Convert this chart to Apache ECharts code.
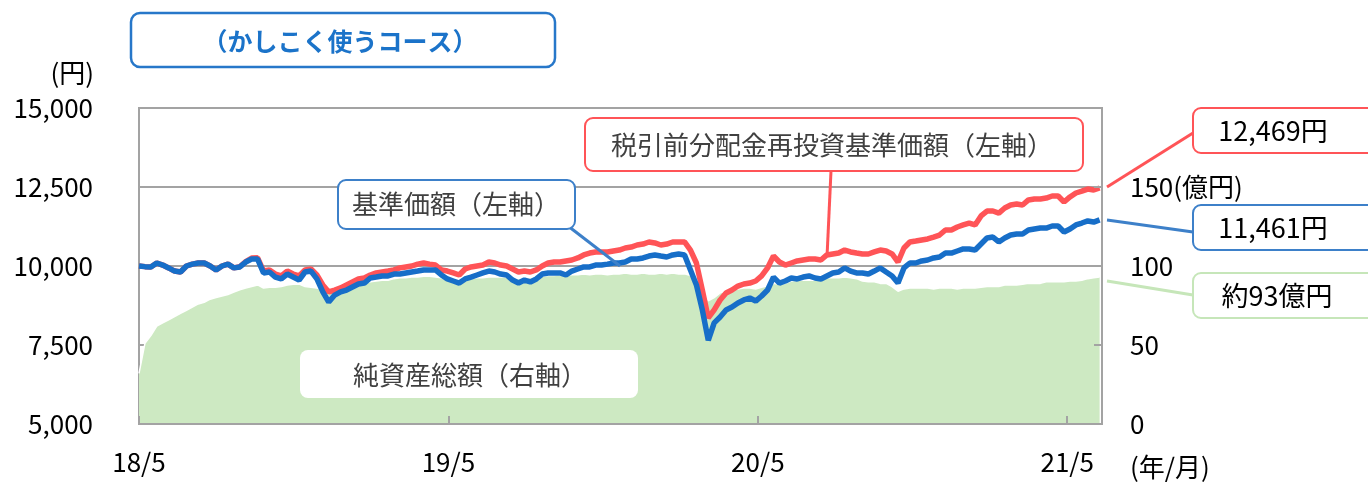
<!DOCTYPE html>
<html>
<head>
<meta charset="utf-8">
<script src="https://cdn.jsdelivr.net/npm/echarts@6/dist/echarts.min.js"></script>
<style>
html, body { margin: 0; padding: 0; background: #fff; }
#container { width: 1368px; height: 484px; }
</style>
</head>
<body>
<div id="container"></div>
<script>
/* 週次データ（2018/5/1 起点、1週ごと） */
var START = new Date(2018, 4, 1);
var WEEKS_PER_YEAR = 365.25 / 7;

/* x軸ラベル */
var xLabels = ['18/5', '19/5', '20/5', '21/5'];

/* 基準価額（円） */
var nav = [
    10000, 9980, 9970, 10095, 10030, 9940, 9840, 9810, 10000, 10060,
    10095, 10095, 10000, 9875, 10000, 10060, 9940, 9970, 10125, 10220,
    10220, 9780, 9810, 9650, 9590, 9745, 9650, 9555, 9810, 9840,
    9590, 9180, 8860, 9080, 9180, 9240, 9335, 9430, 9460, 9620,
    9650, 9685, 9685, 9745, 9745, 9780, 9810, 9840, 9875, 9875,
    9875, 9715, 9590, 9525, 9460, 9590, 9650, 9715, 9780, 9840,
    9810, 9745, 9715, 9555, 9460, 9555, 9495, 9590, 9745, 9780,
    9780, 9780, 9715, 9840, 9905, 9970, 9970, 10030, 10030, 10060,
    10095, 10095, 10125, 10220, 10220, 10255, 10315, 10350, 10315, 10285,
    10350, 10380, 10350, 9875, 9400, 8610, 7650, 8200, 8385, 8610,
    8700, 8830, 8925, 8985, 8890, 9050, 9240, 9650, 9460, 9525,
    9620, 9590, 9650, 9685, 9620, 9590, 9685, 9780, 9810, 9940,
    9840, 9780, 9780, 9745, 9840, 9940, 9810, 9685, 9460, 9940,
    10095, 10095, 10160, 10190, 10255, 10285, 10410, 10410, 10475, 10540,
    10540, 10505, 10695, 10885, 10915, 10760, 10885, 10980, 11010, 11010,
    11140, 11170, 11200, 11200, 11265, 11265, 11075, 11170, 11300, 11360,
    11425, 11390, 11461
];

/* 税引前分配金再投資基準価額（円） */
var reinvested = [
    10000, 9980, 9970, 10095, 10030, 9940, 9840, 9810, 10000, 10060,
    10095, 10095, 10000, 9875, 10000, 10060, 9940, 9975, 10140, 10250,
    10260, 9840, 9875, 9745, 9685, 9840, 9745, 9685, 9875, 9905,
    9715, 9400, 9180, 9240, 9305, 9400, 9495, 9590, 9620, 9715,
    9780, 9810, 9840, 9875, 9940, 9970, 10000, 10060, 10095, 10060,
    10030, 9875, 9840, 9780, 9715, 9905, 9970, 10000, 10030, 10125,
    10095, 10030, 10000, 9905, 9810, 9840, 9810, 9875, 10000, 10095,
    10125, 10125, 10160, 10190, 10255, 10350, 10410, 10445, 10445, 10445,
    10475, 10505, 10570, 10600, 10665, 10695, 10760, 10730, 10665, 10695,
    10760, 10760, 10760, 10505, 10095, 9240, 8355, 8610, 8925, 9145,
    9240, 9365, 9430, 9460, 9525, 9685, 9940, 10315, 10125, 10030,
    10095, 10160, 10190, 10220, 10220, 10190, 10350, 10380, 10410, 10505,
    10445, 10410, 10380, 10380, 10445, 10505, 10475, 10380, 10125, 10570,
    10760, 10790, 10825, 10855, 10915, 10980, 11140, 11140, 11235, 11300,
    11360, 11300, 11585, 11740, 11740, 11675, 11835, 11930, 11960, 11930,
    12090, 12120, 12120, 12150, 12215, 12215, 12025, 12185, 12310, 12370,
    12435, 12405, 12469
];

/* 純資産総額（億円） */
var netAssets = [
    32, 51, 56, 62, 64, 66, 68, 70, 72, 74,
    76, 77, 79, 80, 81, 82, 83.5, 85, 86, 87,
    88, 86, 86.5, 86.5, 87, 88, 88.5, 88.5, 87, 86.5,
    86, 85, 83.5, 84, 85.5, 86, 87, 88.5, 89, 90,
    90.5, 91, 91, 92, 92.5, 92.5, 93, 93, 93.5, 93.5,
    93, 92.5, 91, 90.5, 90, 91, 92, 92.5, 92.5, 93,
    93, 93, 93, 92.5, 92, 92.5, 92.5, 93, 93.5, 94,
    94, 94.5, 94, 94.5, 94.5, 95, 94.5, 95, 95, 94.5,
    95, 95, 95.5, 95, 95, 95.5, 95, 95, 95.5, 95,
    95.5, 95, 95, 94, 92, 86, 78, 80, 83, 84,
    85, 85.5, 86, 86, 85.5, 86.5, 87.5, 89, 88.5, 89,
    90.5, 91, 91, 91, 91, 92, 92.5, 92.5, 92.5, 93,
    92.5, 92, 90.5, 90, 90, 89, 89, 87, 84, 85.5,
    86, 86, 86, 86, 85.5, 86, 86, 86, 85.5, 86,
    86, 86, 86.5, 87, 87, 87, 88, 88, 88, 88.5,
    89, 89, 89, 90, 90, 90, 90, 90.5, 90.5, 91,
    92, 92.5, 93
];

/* 日付（週次） */
var dates = [];
for (var i = 0; i < nav.length; i++) {
    var d = new Date(START.getTime() + i * 7 * 86400000);
    dates.push(d.getFullYear() + '/' + (d.getMonth() + 1) + '/' + d.getDate());
}

function pairs(arr) {
    return arr.map(function (v, i) { return [i, v]; });
}

var FONT = "'Noto Sans CJK JP', sans-serif";
var GRAY = '#a3a3a3';
var RED = '#ff5457';
var BLUE = '#176ec8';
var GREEN = '#cde9c2';

var dom = document.getElementById('container');
var myChart = echarts.init(dom, null, {renderer: 'canvas'});

var lastNav = nav[nav.length - 1];
var lastRe = reinvested[reinvested.length - 1];
var lastNet = netAssets[netAssets.length - 1];

var option = {
    animation: false,
    textStyle: {fontFamily: FONT},
    tooltip: {
        trigger: 'axis',
        formatter: function (p) {
            var s = dates[p[0].value[0]];
            p.forEach(function (q) { s += '<br>' + q.seriesName + ': ' + q.value[1]; });
            return s;
        }
    },
    grid: {
        left: 139, right: 266, top: 108, bottom: 60,
        show: true, borderColor: GRAY, borderWidth: 2, backgroundColor: 'transparent'
    },
    xAxis: {
        type: 'value',
        min: 0,
        max: 162.4,
        interval: WEEKS_PER_YEAR,
        z: 10,
        axisLine: {show: true, lineStyle: {color: GRAY, width: 2}},
        axisTick: {show: true, inside: true, length: 8, lineStyle: {color: GRAY, width: 2}},
        splitLine: {show: false},
        axisPointer: {show: false},
        axisLabel: {
            fontSize: 26, color: '#000', fontFamily: FONT, margin: 25,
            showMaxLabel: false,
            formatter: function (v) {
                var k = Math.round(v / WEEKS_PER_YEAR);
                if (Math.abs(v - k * WEEKS_PER_YEAR) < 0.01 && xLabels[k]) return xLabels[k];
                return '';
            }
        }
    },
    yAxis: [{
        type: 'value',
        position: 'left',
        min: 5000, max: 15000, interval: 2500,
        axisLine: {show: true, lineStyle: {color: GRAY, width: 2}},
        axisTick: {show: true, inside: true, length: 8, lineStyle: {color: GRAY, width: 2}},
        splitLine: {show: true, lineStyle: {color: GRAY, width: 2}},
        axisLabel: {
            fontSize: 26, color: '#000', fontFamily: FONT, margin: 46,
            formatter: function (v) { return v.toLocaleString('en-US'); }
        }
    }, {
        type: 'value',
        position: 'right',
        min: 0, max: 200, interval: 50,
        z: 10,
        axisLine: {show: true, lineStyle: {color: GRAY, width: 2}},
        axisTick: {show: true, inside: true, length: 8, lineStyle: {color: GRAY, width: 2}},
        splitLine: {show: false},
        axisLabel: {
            fontSize: 26, color: '#000', fontFamily: FONT, margin: 28,
            formatter: function (v) {
                if (v === 200) return '';
                if (v === 150) return '150(億円)';
                return String(v);
            }
        }
    }],
    series: [{
        name: '純資産総額',
        type: 'line',
        yAxisIndex: 1,
        data: pairs(netAssets),
        symbol: 'none',
        lineStyle: {color: '#fff', width: 1.5},
        areaStyle: {color: GREEN, opacity: 1},
        z: 1
    }, {
        name: '税引前分配金再投資基準価額',
        type: 'line',
        data: pairs(reinvested),
        symbol: 'none',
        lineStyle: {color: RED, width: 5.5},
        z: 3
    }, {
        name: '基準価額',
        type: 'line',
        data: pairs(nav),
        symbol: 'none',
        lineStyle: {color: BLUE, width: 5.5},
        z: 4
    }],
    graphic: [
        /* タイトル */
        {type: 'rect', z: 100, shape: {x: 131, y: 13, width: 424, height: 54, r: 9},
            style: {fill: '#fff', stroke: '#2777c9', lineWidth: 2.5}},
        {type: 'text', z: 101, x: 340, y: 41,
            style: {text: '（かしこく使うコース）', fontSize: 25, fontWeight: 'bold', fontFamily: FONT,
                fill: '#1b73c9', align: 'center', verticalAlign: 'middle'}},
        /* 単位 */
        {type: 'text', z: 101, x: 94, y: 73,
            style: {text: '(円)', fontSize: 26, fontFamily: FONT, fill: '#000', align: 'right', verticalAlign: 'middle'}},
        {type: 'text', z: 101, x: 1130, y: 467,
            style: {text: '(年/月)', fontSize: 26, fontFamily: FONT, fill: '#000', align: 'left', verticalAlign: 'middle'}},
        /* 基準価額 */
        {type: 'line', z: 100, shape: {x1: 568, y1: 226, x2: 620, y2: 266},
            style: {stroke: '#3d80c9', lineWidth: 3}},
        {type: 'rect', z: 100, shape: {x: 338, y: 180, width: 237, height: 49, r: 8},
            style: {fill: '#fff', stroke: '#3d80c9', lineWidth: 2}},
        {type: 'text', z: 101, x: 456, y: 204,
            style: {text: '基準価額（左軸）', fontSize: 26, fontFamily: FONT, fill: '#404040', align: 'center', verticalAlign: 'middle'}},
        /* 税引前分配金再投資基準価額 */
        {type: 'line', z: 100, shape: {x1: 831, y1: 171, x2: 827, y2: 257},
            style: {stroke: RED, lineWidth: 3}},
        {type: 'rect', z: 100, shape: {x: 585, y: 118, width: 498, height: 53, r: 8},
            style: {fill: '#fff', stroke: RED, lineWidth: 2}},
        {type: 'text', z: 101, x: 832, y: 145,
            style: {text: '税引前分配金再投資基準価額（左軸）', fontSize: 26, fontFamily: FONT, fill: '#404040', align: 'center', verticalAlign: 'middle'}},
        /* 純資産総額 */
        {type: 'rect', z: 100, shape: {x: 300, y: 350, width: 338, height: 48, r: 8},
            style: {fill: '#fff', stroke: null}},
        {type: 'text', z: 101, x: 470, y: 375,
            style: {text: '純資産総額（右軸）', fontSize: 26, fontFamily: FONT, fill: '#404040', align: 'center', verticalAlign: 'middle'}},
        /* 右側の吹き出し */
        {type: 'line', z: 100, shape: {x1: 1107, y1: 187, x2: 1193, y2: 133},
            style: {stroke: RED, lineWidth: 3}},
        {type: 'rect', z: 100, shape: {x: 1193, y: 108, width: 200, height: 45, r: 8},
            style: {fill: '#fff', stroke: RED, lineWidth: 2}},
        {type: 'text', z: 101, x: 1273, y: 131,
            style: {text: lastRe.toLocaleString('en-US') + '円', fontSize: 27, fontFamily: FONT, fill: '#000', align: 'center', verticalAlign: 'middle'}},
        {type: 'line', z: 100, shape: {x1: 1107, y1: 220, x2: 1193, y2: 232},
            style: {stroke: '#3d80c9', lineWidth: 3}},
        {type: 'rect', z: 100, shape: {x: 1193, y: 205, width: 200, height: 45, r: 8},
            style: {fill: '#fff', stroke: '#3d80c9', lineWidth: 2}},
        {type: 'text', z: 101, x: 1273, y: 228,
            style: {text: lastNav.toLocaleString('en-US') + '円', fontSize: 27, fontFamily: FONT, fill: '#000', align: 'center', verticalAlign: 'middle'}},
        {type: 'line', z: 100, shape: {x1: 1107, y1: 281, x2: 1193, y2: 295},
            style: {stroke: '#c6e6b9', lineWidth: 3}},
        {type: 'rect', z: 100, shape: {x: 1193, y: 273, width: 200, height: 45, r: 8},
            style: {fill: '#fff', stroke: '#c6e6b9', lineWidth: 2}},
        {type: 'text', z: 101, x: 1277, y: 296,
            style: {text: '約' + Math.round(lastNet) + '億円', fontSize: 27, fontFamily: FONT, fill: '#000', align: 'center', verticalAlign: 'middle'}}
    ]
};

if (option && typeof option === 'object') {
    myChart.setOption(option, true);
}
</script>
</body>
</html>
